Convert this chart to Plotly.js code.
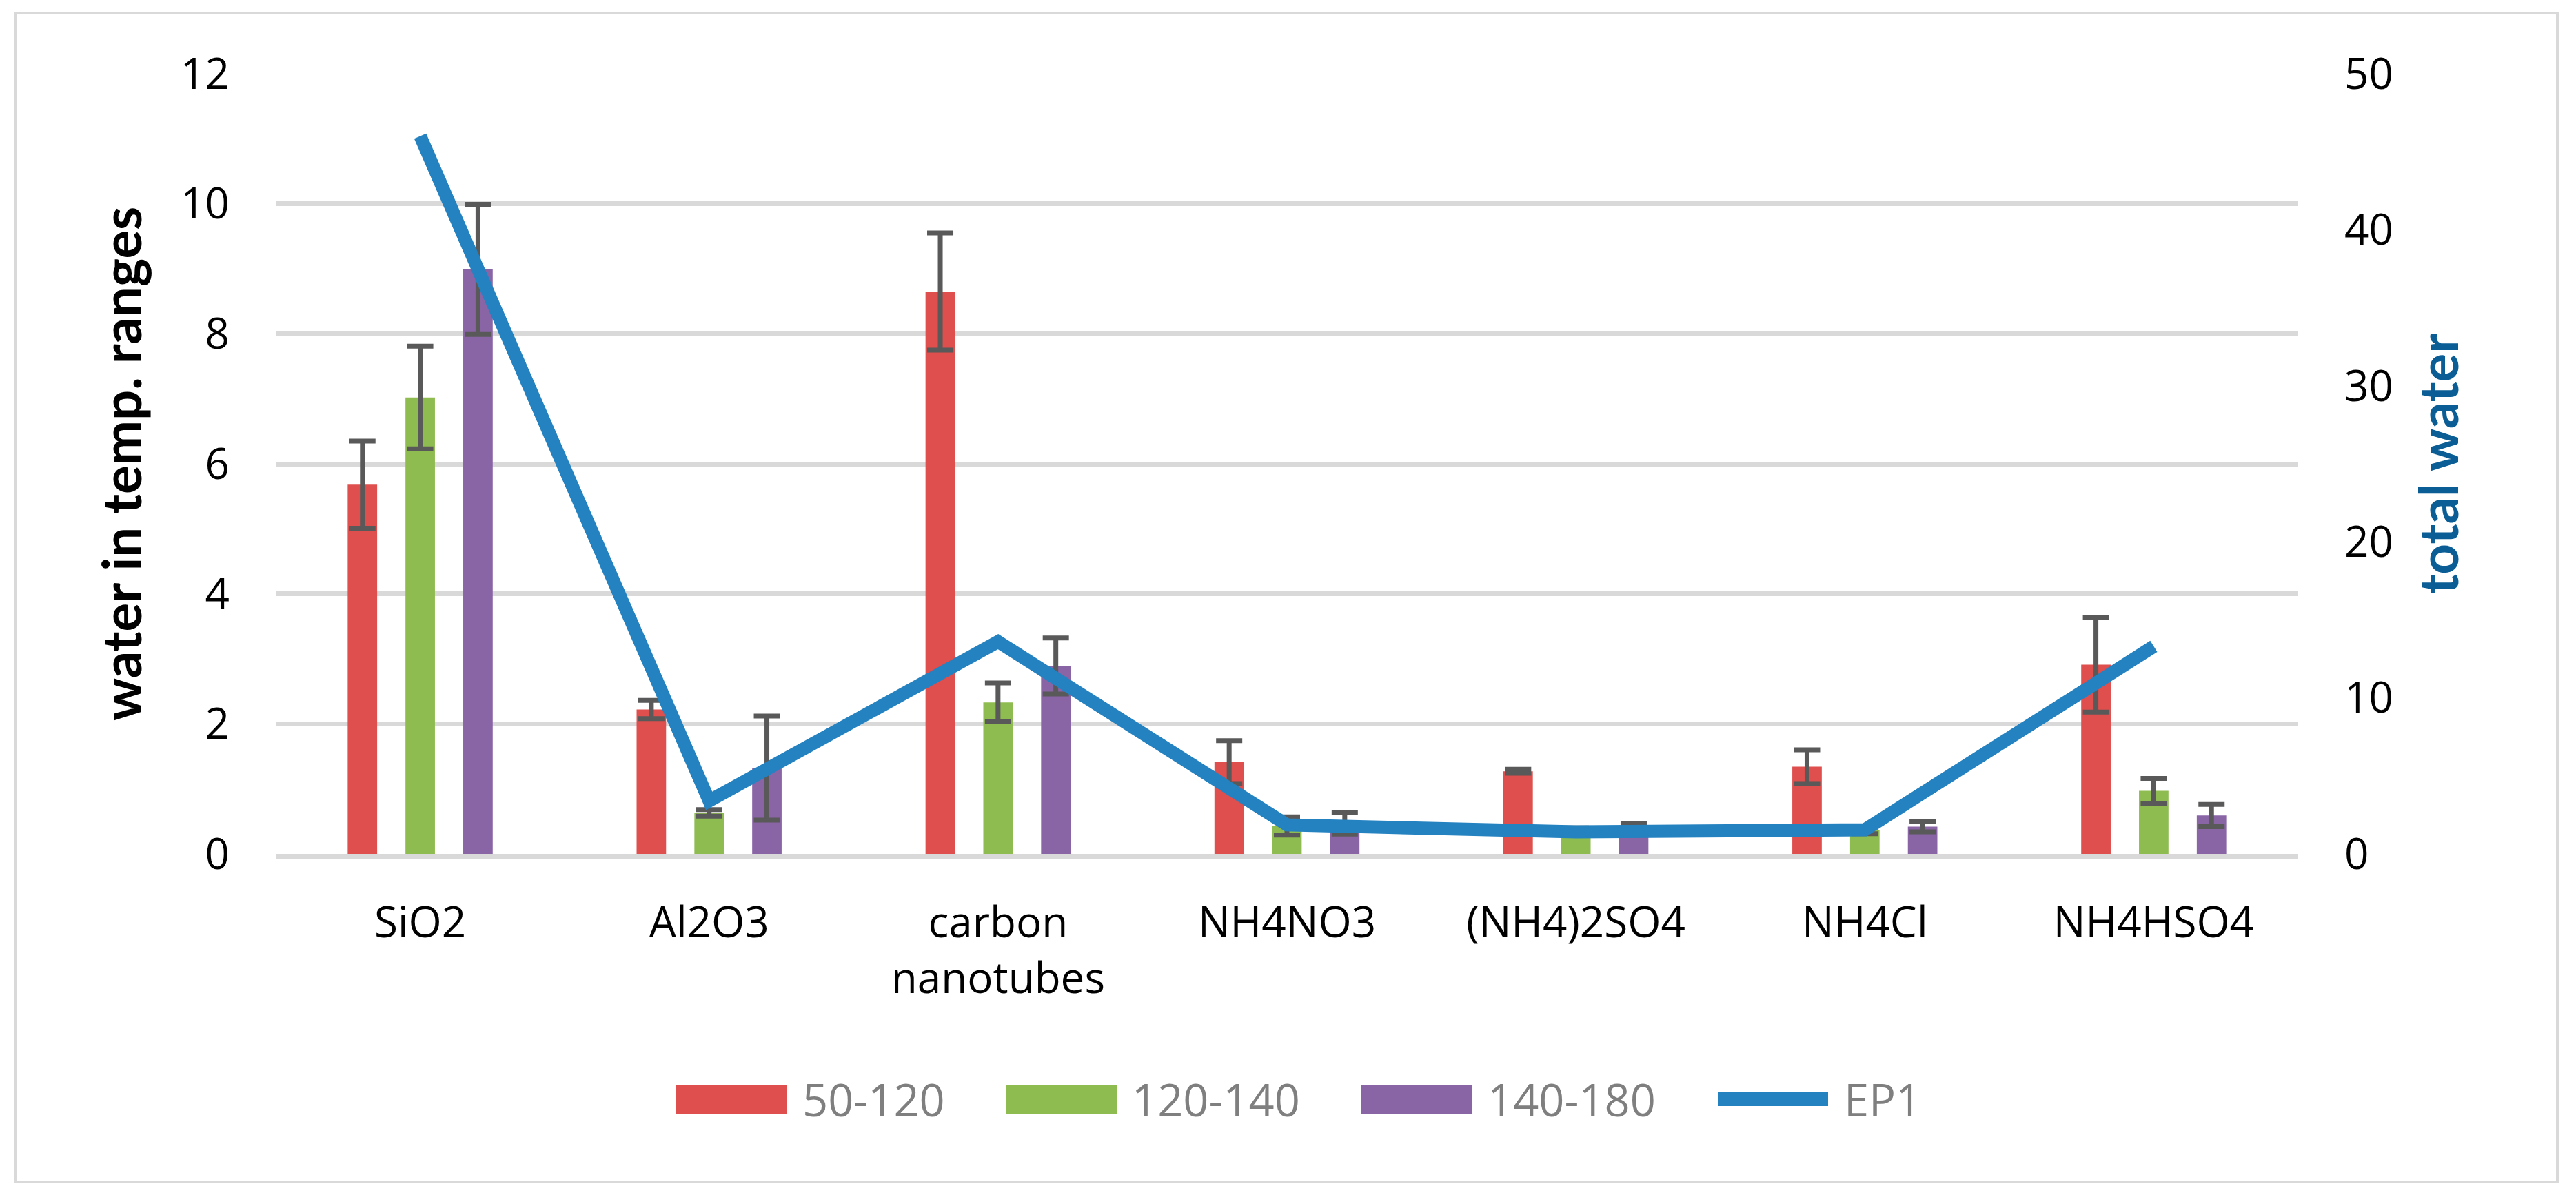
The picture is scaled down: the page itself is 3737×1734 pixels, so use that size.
<!DOCTYPE html>
<html><head><meta charset="utf-8">
<script src="https://cdn.plot.ly/plotly-3.0.1.min.js"></script>
<style>html,body{margin:0;padding:0;background:#fff}#chart{width:3737px;height:1734px}</style>
</head><body><div id="chart"></div>
<script>
// ---- data ----
const categories = ['SiO2', 'Al2O3', 'carbon<br>nanotubes', 'NH4NO3', '(NH4)2SO4', 'NH4Cl', 'NH4HSO4'];
const seriesNames = ['50-120', '120-140', '140-180', 'EP1'];
const water50_120  = [5.68, 2.22, 8.65, 1.41, 1.27, 1.34, 2.91];
const err50_120    = [0.67, 0.14, 0.90, 0.33, 0.03, 0.26, 0.73];
const water120_140 = [7.02, 0.63, 2.33, 0.43, 0.37, 0.36, 0.97];
const err120_140   = [0.79, 0.05, 0.30, 0.14, 0.03, 0.05, 0.19];
const water140_180 = [8.99, 1.32, 2.89, 0.47, 0.41, 0.42, 0.59];
const err140_180   = [1.00, 0.80, 0.43, 0.165, 0.05, 0.08, 0.17];
const totalEP1     = [46.0, 3.4, 13.6, 1.86, 1.41, 1.55, 13.3];
const leftTicks  = [0, 2, 4, 6, 8, 10, 12];
const rightTicks = [0, 10, 20, 30, 40, 50];

// ---- styling ----
const colors = ['#de4f4d', '#8fbc51', '#8a65a6', '#2482c1'];
const W = 3737, H = 1734;
const PL = 400, PR = 3334, PT = 107, PB = 1239;
const px = v => (v - PL) / (PR - PL);
const py = v => (PB - v) / (PB - PT);
const tickFont = {family: 'Open Sans, DejaVu Sans, sans-serif', size: 62, color: '#000000'};

const barSeries = [
  {y: water50_120, e: err50_120},
  {y: water120_140, e: err120_140},
  {y: water140_180, e: err140_180}
];
const traces = barSeries.map((s, i) => ({
  type: 'bar', name: seriesNames[i], x: categories, y: s.y,
  marker: {color: colors[i]},
  error_y: {type: 'data', array: s.e, visible: true, color: '#595959', thickness: 7, width: 19},
  xaxis: 'x', yaxis: 'y', showlegend: false, hoverinfo: 'skip'
}));
traces.push({
  type: 'scatter', mode: 'lines', name: seriesNames[3], x: categories, y: totalEP1,
  line: {color: colors[3], width: 19}, xaxis: 'x', yaxis: 'y2', showlegend: false, hoverinfo: 'skip'
});

// custom legend (wide swatches like the original)
const legX = [981, 1459, 1975, 2482];
const legY = 1595;
const shapes = [{
  type: 'rect', xref: 'paper', yref: 'paper',
  x0: px(23), x1: px(3710), y0: py(1715), y1: py(19),
  line: {color: '#d9d9d9', width: 4}, fillcolor: 'rgba(0,0,0,0)', layer: 'below'
}];
const annotations = [];
seriesNames.forEach((n, i) => {
  if (i < 3) {
    shapes.push({type: 'rect', xref: 'paper', yref: 'paper',
      x0: px(legX[i]), x1: px(legX[i] + 161), y0: py(legY + 21), y1: py(legY - 21),
      line: {width: 0}, fillcolor: colors[i]});
  } else {
    shapes.push({type: 'line', xref: 'paper', yref: 'paper',
      x0: px(legX[i] + 10), x1: px(legX[i] + 170), y0: py(legY), y1: py(legY),
      line: {width: 20, color: colors[i]}});
  }
  annotations.push({xref: 'paper', yref: 'paper', x: px(legX[i] + (i < 3 ? 181 : 191)), y: py(legY),
    xanchor: 'left', yanchor: 'middle', showarrow: false, text: n,
    font: {family: 'Open Sans, DejaVu Sans, sans-serif', size: 65, color: '#7f7f7f'}});
});

const layout = {
  width: W, height: H,
  margin: {l: PL, r: W - PR, t: PT, b: H - PB, autoexpand: false},
  paper_bgcolor: '#ffffff', plot_bgcolor: '#ffffff',
  barmode: 'group', bargap: 0.4, bargroupgap: 0.49,
  showlegend: false,
  xaxis: {type: 'category', tickfont: tickFont, showgrid: false, zeroline: false,
    showline: true, linecolor: '#d9d9d9', linewidth: 7, layer: 'above traces',
    ticks: '', ticklabelstandoff: 40, automargin: false},
  yaxis: {range: [0, 12], tickvals: leftTicks, gridcolor: '#d9d9d9', gridwidth: 7,
    zeroline: false, showline: false, ticks: '', tickfont: tickFont, ticklabelstandoff: 66,
    automargin: false,
    title: {text: 'water in temp. ranges', standoff: 30,
      font: {family: 'Lato, Open Sans, sans-serif', size: 78, weight: 'bold', color: '#000000'}}},
  yaxis2: {range: [0, 50], tickvals: rightTicks, overlaying: 'y', side: 'right',
    showgrid: false, zeroline: false, showline: false, ticks: '', tickfont: tickFont,
    ticklabelstandoff: 66, automargin: false,
    title: {text: 'total water', standoff: 40,
      font: {family: 'Lato, Open Sans, sans-serif', size: 78, weight: 'bold', color: '#0b5e95'}}},
  shapes: shapes,
  annotations: annotations
};

Plotly.newPlot('chart', traces, layout, {staticPlot: true, displayModeBar: false});
</script>
</body></html>
